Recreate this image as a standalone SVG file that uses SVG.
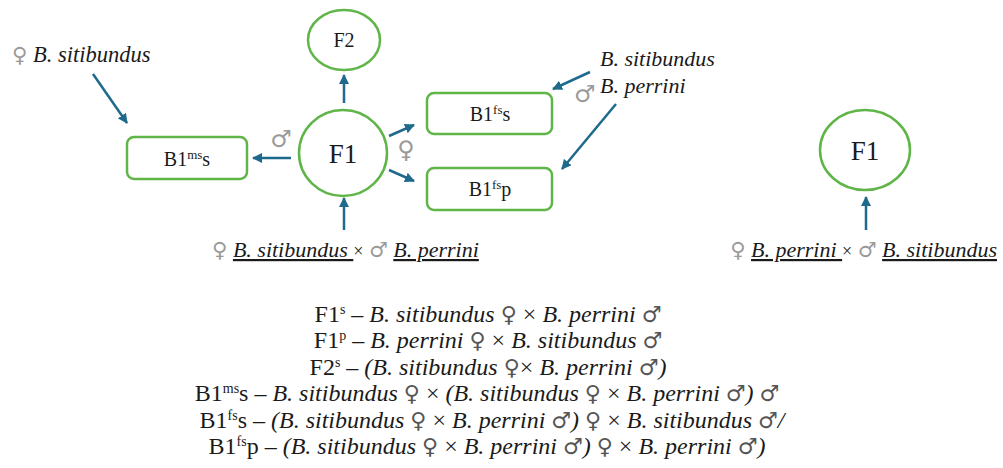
<svg xmlns="http://www.w3.org/2000/svg" width="1003" height="468" viewBox="0 0 1003 468">
<defs>
<marker id="ah" viewBox="0 0 10 10" refX="9" refY="5" markerWidth="4" markerHeight="4" orient="auto" markerUnits="strokeWidth">
<path d="M0,0 L10,5 L0,10 z" fill="#1f6a8c"/>
</marker>
</defs>
<style>
.node{fill:#fff;stroke:#5fb548;stroke-width:2.5}
.lbl{font-family:"Liberation Serif",serif;fill:#1a1a1a}
.it{font-style:italic}
.sym{font-family:"DejaVu Sans",sans-serif;fill:#9a9a9a;font-style:normal}
.symb{font-family:"DejaVu Sans",sans-serif;fill:#555;font-style:normal}
.conn line{stroke:#1f6a8c;stroke-width:2.5;marker-end:url(#ah)}
</style>
<rect width="1003" height="468" fill="#fff"/>

<g id="conn" class="conn">
<line x1="93" y1="74" x2="127" y2="123"/>
<line x1="291" y1="158" x2="253" y2="158"/>
<line x1="344" y1="103" x2="344" y2="75"/>
<line x1="344" y1="230" x2="344" y2="198"/>
<line x1="389" y1="136" x2="414" y2="125"/>
<line x1="389" y1="170" x2="414" y2="181"/>
<line x1="590" y1="72" x2="553" y2="89"/>
<line x1="616" y1="104" x2="562" y2="169"/>
<line x1="866" y1="230" x2="866" y2="197"/>
</g>

<g id="lbl-female-sit">
<text class="lbl" x="12" y="62" font-size="22.5"><tspan class="sym" font-size="21">♀</tspan> <tspan class="it">B. sitibundus</tspan></text>
</g>

<g id="node-B1mss">
<rect class="node" x="127" y="137" width="120" height="42" rx="7"/>
<text class="lbl" x="187" y="166" font-size="20" text-anchor="middle">B1<tspan font-size="13" dy="-7">ms</tspan><tspan dy="7">s</tspan></text>
</g>

<g id="sym-male-left">
<text class="sym" x="281" y="147" font-size="24" text-anchor="middle">♂</text>
</g>

<g id="node-F1">
<ellipse class="node" cx="343" cy="153" rx="44" ry="43"/>
<text class="lbl" x="343" y="163" font-size="27" text-anchor="middle">F1</text>
</g>

<g id="node-F2">
<ellipse class="node" cx="344" cy="40" rx="36" ry="30"/>
<text class="lbl" x="344" y="47" font-size="20" text-anchor="middle">F2</text>
</g>

<g id="sym-female-mid">
<text class="sym" x="406" y="158" font-size="24" text-anchor="middle">♀</text>
</g>

<g id="node-B1fss">
<rect class="node" x="427" y="93" width="125" height="41" rx="7"/>
<text class="lbl" x="490" y="121" font-size="20" text-anchor="middle">B1<tspan font-size="13" dy="-7">fs</tspan><tspan dy="7">s</tspan></text>
</g>

<g id="node-B1fsp">
<rect class="node" x="427" y="168" width="125" height="42" rx="7"/>
<text class="lbl" x="490" y="196" font-size="20" text-anchor="middle">B1<tspan font-size="13" dy="-7">fs</tspan><tspan dy="7">p</tspan></text>
</g>

<g id="lbl-right-parents">
<text class="lbl it" x="600" y="66" font-size="22">B. sitibundus</text>
<text class="sym" x="574" y="102" font-size="24">♂</text>
<text class="lbl it" x="600" y="93" font-size="22">B. perrini</text>
</g>

<g id="lbl-cross-sp">
<text class="lbl" x="212" y="257" font-size="22"><tspan class="sym" font-size="21">♀</tspan> <tspan class="it" text-decoration="underline">B. sitibundus </tspan><tspan font-size="18">×</tspan> <tspan class="sym" font-size="21">♂</tspan> <tspan class="it" text-decoration="underline">B. perrini</tspan></text>
</g>

<g id="node-F1p">
<ellipse class="node" cx="865" cy="150" rx="45" ry="40"/>
<text class="lbl" x="865" y="160" font-size="27" text-anchor="middle">F1</text>
</g>

<g id="lbl-cross-ps">
<text class="lbl" x="997" y="257" font-size="22" text-anchor="end"><tspan class="sym" font-size="21">♀</tspan> <tspan class="it" text-decoration="underline">B. perrini </tspan><tspan font-size="18">×</tspan> <tspan class="sym" font-size="21">♂</tspan> <tspan class="it" text-decoration="underline">B. sitibundus</tspan></text>
</g>

<g id="legend" class="lbl" font-size="24" text-anchor="middle">
<text x="488" y="322">F1<tspan font-size="14" dy="-8">s</tspan><tspan dy="8"> – </tspan><tspan class="it">B. sitibundus </tspan><tspan class="symb" font-size="22">♀</tspan> × <tspan class="it">B. perrini </tspan><tspan class="symb" font-size="22">♂</tspan></text>
<text x="488" y="348">F1<tspan font-size="14" dy="-8">p</tspan><tspan dy="8"> – </tspan><tspan class="it">B. perrini </tspan><tspan class="symb" font-size="22">♀</tspan> × <tspan class="it">B. sitibundus </tspan><tspan class="symb" font-size="22">♂</tspan></text>
<text x="488" y="375">F2<tspan font-size="14" dy="-8">s</tspan><tspan dy="8"> – </tspan><tspan class="it">(B. sitibundus </tspan><tspan class="symb" font-size="22">♀</tspan>× <tspan class="it">B. perrini </tspan><tspan class="symb" font-size="22">♂</tspan><tspan class="it">)</tspan></text>
<text x="487" y="401">B1<tspan font-size="14" dy="-8">ms</tspan><tspan dy="8">s – </tspan><tspan class="it">B. sitibundus </tspan><tspan class="symb" font-size="22">♀</tspan> × <tspan class="it">(B. sitibundus </tspan><tspan class="symb" font-size="22">♀</tspan> × <tspan class="it">B. perrini </tspan><tspan class="symb" font-size="22">♂</tspan><tspan class="it">) </tspan><tspan class="symb" font-size="22">♂</tspan></text>
<text x="492" y="428">B1<tspan font-size="14" dy="-8">fs</tspan><tspan dy="8">s – </tspan><tspan class="it">(B. sitibundus </tspan><tspan class="symb" font-size="22">♀</tspan> × <tspan class="it">B. perrini </tspan><tspan class="symb" font-size="22">♂</tspan><tspan class="it">) </tspan><tspan class="symb" font-size="22">♀</tspan> × <tspan class="it">B. sitibundus </tspan><tspan class="symb" font-size="22">♂</tspan><tspan class="it">/</tspan></text>
<text x="487" y="454">B1<tspan font-size="14" dy="-8">fs</tspan><tspan dy="8">p – </tspan><tspan class="it">(B. sitibundus </tspan><tspan class="symb" font-size="22">♀</tspan> × <tspan class="it">B. perrini </tspan><tspan class="symb" font-size="22">♂</tspan><tspan class="it">) </tspan><tspan class="symb" font-size="22">♀</tspan> × <tspan class="it">B. perrini </tspan><tspan class="symb" font-size="22">♂</tspan><tspan class="it">)</tspan></text>
</g>
</svg>
